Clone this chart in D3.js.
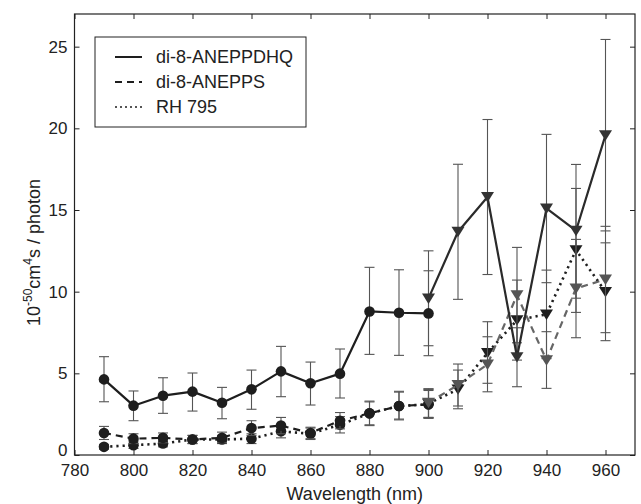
<!DOCTYPE html>
<html><head><meta charset="utf-8">
<script src="https://cdn.jsdelivr.net/npm/d3@7"></script>
<style>body{margin:0;background:#fff}svg{display:block}text{font-family:"Liberation Sans",Arial,sans-serif;fill:#222}</style>
</head><body>
<svg id="c" width="641" height="504"></svg>
<script>
// ---- data ----
const wlCircle = [790,800,810,820,830,840,850,860,870,880,890,900];
const wlTri = [900,910,920,930,940,950,960];

const dhqCircle   = [4.63,3.02,3.63,3.88,3.20,4.02,5.12,4.39,4.98,8.79,8.71,8.67];
const dhqCircleLo = [3.26,2.10,2.55,2.69,2.22,2.80,3.57,3.06,3.49,6.16,6.10,6.08];
const dhqCircleHi = [6.02,3.92,4.73,5.02,4.14,5.20,6.65,5.69,6.49,11.49,11.34,11.28];
const dhqTri   = [9.59,13.67,15.80,6.00,15.10,13.73,19.58];
const dhqTriLo = [6.69,9.53,11.05,4.18,10.55,9.60,13.72];
const dhqTriHi = [12.50,17.80,20.54,7.79,19.63,17.79,25.44];

const anCircle   = [1.35,1.00,1.05,0.95,1.05,1.65,1.80,1.35,2.10,2.55,3.00,3.10];
const anCircleLo = [0.95,0.70,0.75,0.70,0.75,1.20,1.30,1.00,1.60,1.80,2.20,2.30];
const anCircleHi = [1.75,1.30,1.35,1.20,1.40,2.10,2.30,1.70,2.60,3.30,3.90,4.00];
const anTri   = [3.20,4.29,5.55,9.79,5.81,10.20,10.75];
const anTriLo = [2.30,3.00,3.87,6.87,4.08,7.18,7.49];
const anTriHi = [4.05,5.57,7.24,12.71,7.55,13.20,14.00];

const rhCircle   = [0.50,0.60,0.70,0.95,0.95,1.00,1.45,1.30,1.85,2.55,3.00,3.10];
const rhCircleLo = [0.35,0.40,0.50,0.70,0.70,0.70,1.05,0.95,1.35,1.85,2.15,2.25];
const rhCircleHi = [0.65,0.80,0.90,1.20,1.20,1.30,1.85,1.65,2.35,3.25,3.85,3.95];
const rhTri   = [3.15,4.02,6.25,8.26,8.61,12.55,9.99];
const rhTriLo = [2.25,2.83,4.39,5.81,5.90,8.73,7.00];
const rhTriHi = [4.05,5.20,8.16,10.71,11.32,16.32,12.99];

const xTicks = [780,800,820,840,860,880,900,920,940,960];
const yTicks = [0,5,10,15,20,25];
const legendLabels = ["di-8-ANEPPDHQ","di-8-ANEPPS","RH 795"];

// ---- layout ----
const svg = d3.select("#c");
const L = 74.5, R = 635, T = 14, B = 455;
const x = d3.scaleLinear().domain([780,970]).range([L,R]);
const y = d3.scaleLinear().domain([0,27]).range([B,T]);

// axes (MATLAB style, inward ticks on all sides)
const fs = "17px";
const ax = svg.append("g").attr("transform",`translate(0,${B})`)
  .call(d3.axisBottom(x).tickValues(xTicks).tickSizeInner(-5).tickSizeOuter(0).tickPadding(9));
const axT = svg.append("g").attr("transform",`translate(0,${T})`)
  .call(d3.axisTop(x).tickValues(xTicks).tickSizeInner(-5).tickSizeOuter(0).tickFormat(""));
const ay = svg.append("g").attr("transform",`translate(${L},0)`)
  .call(d3.axisLeft(y).tickValues(yTicks).tickSizeInner(-5).tickSizeOuter(0).tickPadding(7));
const ayR = svg.append("g").attr("transform",`translate(${R},0)`)
  .call(d3.axisRight(y).tickValues(yTicks).tickSizeInner(-5).tickSizeOuter(0).tickFormat(""));
[ax,axT,ay,ayR].forEach(g=>{
  g.select(".domain").remove();
  g.selectAll(".tick line").attr("stroke","#222");
  g.selectAll("text").style("font-size",fs).attr("fill","#222")
    .style("font-family",'"Liberation Sans",Arial,sans-serif');
});
// lift the "0" label a little, as in the reference, so it clears "780"
ay.selectAll(".tick text").filter(d=>d===0).attr("y",-5);
svg.append("rect").attr("x",L).attr("y",T).attr("width",R-L).attr("height",B-T)
  .attr("fill","none").attr("stroke","#222").attr("stroke-width",1.2);

// axis labels
svg.append("text").attr("x",(L+R)/2).attr("y",500).attr("text-anchor","middle")
  .style("font-size","18px").text("Wavelength (nm)");
const yl = svg.append("text").attr("transform",`translate(40,${(T+B)/2+18}) rotate(-90)`)
  .attr("text-anchor","middle").style("font-size","18px");
yl.append("tspan").text("10");
yl.append("tspan").attr("dy",-8).style("font-size","12px").text("-50");
yl.append("tspan").attr("dy",8).text("cm");
yl.append("tspan").attr("dy",-8).style("font-size","12px").text("4");
yl.append("tspan").attr("dy",8).text("s / photon");

// series drawing
function errorBars(wl, lo, hi, color){
  const g = svg.append("g").attr("stroke",color).attr("stroke-width",1.1).attr("fill","none");
  wl.forEach((w,i)=>{
    const cx = x(w);
    g.append("line").attr("x1",cx).attr("x2",cx).attr("y1",y(lo[i])).attr("y2",y(hi[i]));
    g.append("line").attr("x1",cx-5).attr("x2",cx+5).attr("y1",y(lo[i])).attr("y2",y(lo[i]));
    g.append("line").attr("x1",cx-5).attr("x2",cx+5).attr("y1",y(hi[i])).attr("y2",y(hi[i]));
  });
}
function line(wl, vals, color, dash, width){
  const data = wl.map((w,i)=>[w,vals[i]]);
  svg.append("path").datum(data).attr("fill","none").attr("stroke",color)
    .attr("stroke-width",width).attr("stroke-dasharray",dash||null)
    .attr("stroke-linejoin","round")
    .attr("d", d3.line().x(d=>x(d[0])).y(d=>y(d[1])));
}
function circles(wl, vals, color){
  svg.append("g").selectAll("circle").data(wl).join("circle")
    .attr("cx",d=>x(d)).attr("cy",(d,i)=>y(vals[i])).attr("r",5.3).attr("fill",color);
}
function tris(wl, vals, color){
  const s = 6.5;
  svg.append("g").selectAll("path").data(wl).join("path")
    .attr("transform",(d,i)=>`translate(${x(d)},${y(vals[i])})`)
    .attr("d",`M${-s},${-s*0.75}L${s},${-s*0.75}L0,${s*0.85}Z`).attr("fill",color);
}

const ebColor = "#555";
// RH 795 (dotted)
errorBars(wlCircle, rhCircleLo, rhCircleHi, ebColor);
errorBars(wlTri, rhTriLo, rhTriHi, ebColor);
line(wlCircle, rhCircle, "#1e1e1e", "2.2,4", 2.6);
line(wlTri, rhTri, "#1e1e1e", "2.2,4", 2.6);
circles(wlCircle, rhCircle, "#1e1e1e");
tris(wlTri, rhTri, "#1e1e1e");
// di-8-ANEPPS (dashed)
errorBars(wlCircle, anCircleLo, anCircleHi, ebColor);
errorBars(wlTri, anTriLo, anTriHi, ebColor);
line(wlCircle, anCircle, "#1e1e1e", "7,5", 2.2);
line(wlTri, anTri, "#666", "7,5", 2.2);
circles(wlCircle, anCircle, "#1e1e1e");
tris(wlTri, anTri, "#555");
// di-8-ANEPPDHQ (solid)
errorBars(wlCircle, dhqCircleLo, dhqCircleHi, ebColor);
errorBars(wlTri, dhqTriLo, dhqTriHi, ebColor);
line(wlCircle, dhqCircle, "#1e1e1e", null, 2.2);
line(wlTri, dhqTri, "#2a2a2a", null, 2.2);
circles(wlCircle, dhqCircle, "#1e1e1e");
tris(wlTri, dhqTri, "#333");

// legend
const lg = svg.append("g");
lg.append("rect").attr("x",95).attr("y",37).attr("width",211).attr("height",90)
  .attr("fill","#fff").attr("stroke","#222").attr("stroke-width",1);
const lStyles = [null,"7,5","2,3"];
legendLabels.forEach((t,i)=>{
  const yy = 57 + i*25;
  lg.append("line").attr("x1",115).attr("x2",142).attr("y1",yy).attr("y2",yy)
    .attr("stroke","#1e1e1e").attr("stroke-width",i===2?1.6:2).attr("stroke-dasharray",lStyles[i]);
  lg.append("text").attr("x",156).attr("y",yy+6).style("font-size","18px").text(t);
});
</script>
</body></html>
